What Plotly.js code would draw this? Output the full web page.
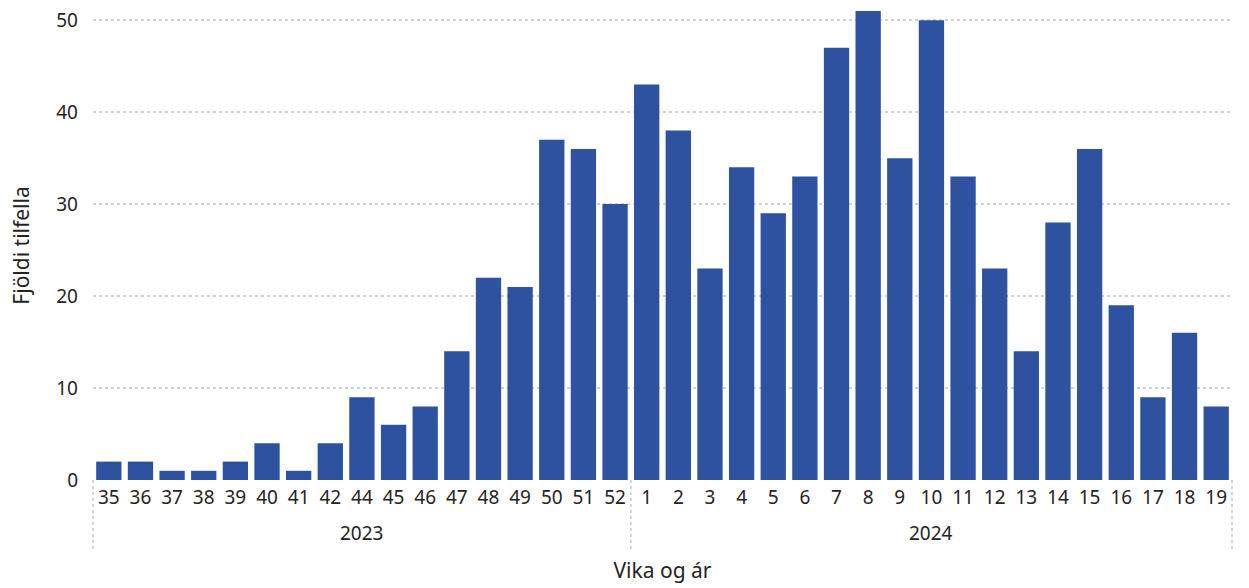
<!DOCTYPE html>
<html>
<head>
<meta charset="utf-8">
<script src="https://cdn.plot.ly/plotly-3.0.1.min.js"></script>
<style>html,body{margin:0;padding:0;background:#fff;}#chart{width:1249px;height:588px;}</style>
</head>
<body>
<div id="chart"></div>
<script>
const weeks2023 = ["35","36","37","38","39","40","41","42","44","45","46","47","48","49","50","51","52"];
const values2023 = [2,2,1,1,2,4,1,4,9,6,8,14,22,21,37,36,30];
const weeks2024 = ["1","2","3","4","5","6","7","8","9","10","11","12","13","14","15","16","17","18","19"];
const values2024 = [43,38,23,34,29,33,47,51,35,50,33,23,14,28,36,19,9,16,8];
const years = ["2023","2024"];

const groups = [weeks2023, weeks2024];
const groupVals = [values2023, values2024];
const weekLabels = [].concat(...groups);
const values = [].concat(...groupVals);
const idx = values.map((_, i) => i);
const N = values.length;

const font = "'Segoe UI', 'Noto Sans', 'Open Sans', sans-serif";
const txt = "#252423";

const annotations = [];
const shapes = [];
let start = 0;
const bounds = [0];
groups.forEach((g, gi) => {
  const end = start + g.length;
  annotations.push({
    x: (start + end - 1) / 2, xref: "x", y: 0, yref: "paper",
    yanchor: "middle", yshift: -53, showarrow: false,
    text: years[gi], font: {family: font, size: 19, color: txt}
  });
  bounds.push(end);
  start = end;
});
bounds.forEach(b => {
  shapes.push({
    type: "line", xref: "paper", yref: "paper",
    x0: b / N, x1: b / N, y0: 0, y1: -0.152,
    line: {color: "#C8C8C8", width: 1.5, dash: "dot"}
  });
});

const trace = {
  type: "bar", x: idx, y: values,
  marker: {color: "#2F52A0"},
  hoverinfo: "x+y"
};

const layout = {
  width: 1249, height: 588,
  margin: {l: 93, r: 17, t: 11, b: 108},
  paper_bgcolor: "#fff", plot_bgcolor: "#fff",
  bargap: 0.2,
  showlegend: false,
  font: {family: font, color: txt},
  xaxis: {
    range: [-0.5, N - 0.5],
    tickmode: "array", tickvals: idx, ticktext: weekLabels,
    tickfont: {family: font, size: 19, color: txt},
    showgrid: false, zeroline: false, showline: false, ticks: "",
    ticklabelstandoff: 4,
    title: {text: "Vika og ár", font: {family: font, size: 21, color: txt}, standoff: 54}
  },
  yaxis: {
    range: [0, 51],
    tickvals: [0, 10, 20, 30, 40, 50],
    tickfont: {family: font, size: 19, color: txt},
    showgrid: true, gridcolor: "#D2D2D2", griddash: "dot", gridwidth: 1.5,
    zeroline: false, showline: false, ticks: "",
    ticklabelstandoff: 14,
    title: {text: "Fjöldi tilfella", font: {family: font, size: 21, color: txt}, standoff: 20}
  },
  annotations: annotations,
  shapes: shapes
};

Plotly.newPlot("chart", [trace], layout, {displayModeBar: false, staticPlot: true});
</script>
</body>
</html>
